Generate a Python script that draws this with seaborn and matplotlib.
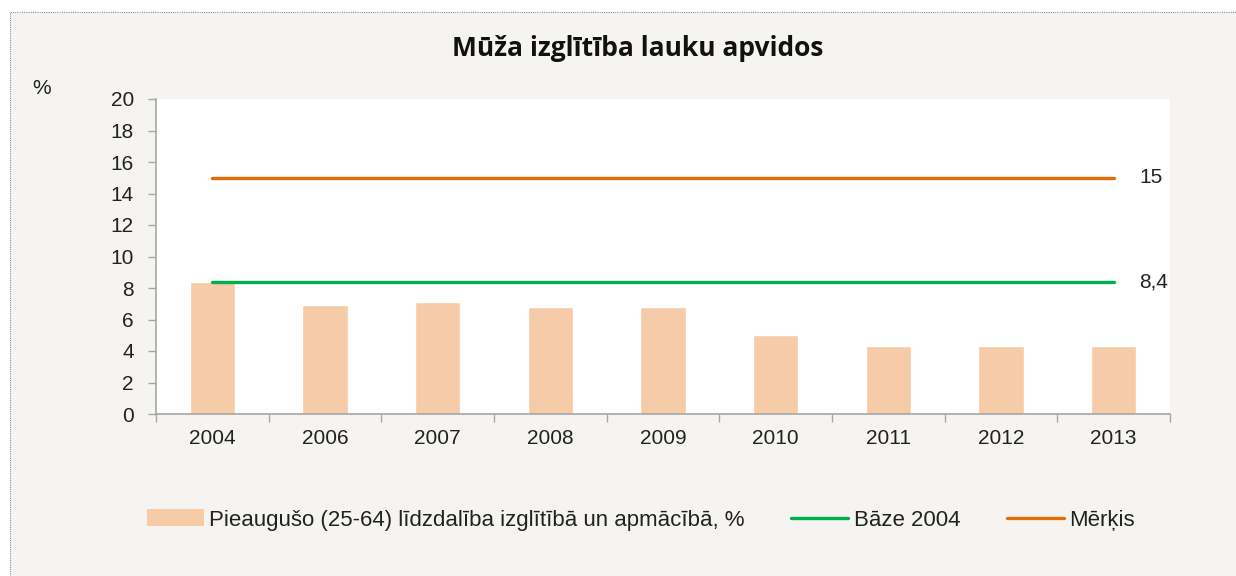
import numpy as np
import pandas as pd
import matplotlib
matplotlib.use("Agg")
import matplotlib.pyplot as plt
import seaborn as sns
from matplotlib.patches import Rectangle, Patch
from matplotlib.lines import Line2D

# ---- data ----
years = ["2004", "2006", "2007", "2008", "2009", "2010", "2011", "2012", "2013"]
participation = [8.4, 6.9, 7.1, 6.8, 6.8, 5.0, 4.3, 4.3, 4.3]
base_2004 = [8.4] * len(years)
target = [15] * len(years)
y_ticks = [0, 2, 4, 6, 8, 10, 12, 14, 16, 18, 20]
title = "Mūža izglītība lauku apvidos"
bar_label = "Pieaugušo (25-64) līdzdalība izglītībā un apmācībā, %"
base_label = "Bāze 2004"
target_label = "Mērķis"
base_text = "8,4"
target_text = "15"

sns.set_theme(style="white")
plt.rcParams["font.family"] = ["Liberation Sans", "DejaVu Sans"]

BG = "#f5f4f0"
BAR = "#f6cba8"
GREEN = "#00b050"
ORANGE = "#e36c09"
AX = "#a6a6a6"

W, H = 1236, 576
fig = plt.figure(figsize=(W / 100, H / 100), dpi=100)
fig.patch.set_facecolor("white")
# chart area background with dotted border
fig.add_artist(Rectangle((10 / W, -0.1), 1.2, 1 - 12 / H + 0.1, transform=fig.transFigure,
                         facecolor=BG, edgecolor="#8c8c8c", linestyle=(0, (1, 1)),
                         linewidth=0.8, zorder=-10))

ax = fig.add_axes([156 / W, (H - 414) / H, (1170 - 156) / W, (414 - 99) / H])
ax.set_facecolor("white")

df = pd.DataFrame({"year": years, "value": participation})
sns.barplot(data=df, x="year", y="value", color=BAR, saturation=1, width=0.4,
            ax=ax, zorder=2)
pos = np.arange(len(years))
sns.lineplot(x=pos, y=base_2004, color=GREEN, linewidth=2.4, ax=ax, zorder=3)
sns.lineplot(x=pos, y=target, color=ORANGE, linewidth=2.4, ax=ax, zorder=3)

ax.set_xlim(-0.5, len(years) - 0.5)
ax.set_ylim(0, 20)
ax.set_yticks(y_ticks)
ax.set_yticklabels([str(t) for t in y_ticks], fontsize=15, color="#222222")
ax.set_xticks(pos)
ax.set_xticklabels(years, fontsize=15, color="#222222")
ax.set_xticks(np.arange(-0.5, len(years)), minor=True)
ax.tick_params(axis="x", which="major", length=0, pad=11)
ax.tick_params(axis="x", which="minor", length=6, width=1, color=AX, direction="out", bottom=True)
ax.tick_params(axis="y", which="major", length=6, width=1, color=AX, direction="out", left=True, pad=10)
ax.set_xlabel("")
ax.set_ylabel("")
for s in ["top", "right"]:
    ax.spines[s].set_visible(False)
for s in ["left", "bottom"]:
    ax.spines[s].set_color(AX)
    ax.spines[s].set_linewidth(1.2)
ax.grid(False)

# annotations at line ends
ax.annotate(target_text, xy=(pos[-1], target[-1]), xytext=(18.5, 0), textcoords="offset points",
            fontsize=15, va="center", ha="left", color="#222222")
ax.annotate(base_text, xy=(pos[-1], base_2004[-1]), xytext=(18.5, 0), textcoords="offset points",
            fontsize=15, va="center", ha="left", color="#222222")

fig.text(42 / W, 1 - 88 / H, "%", fontsize=15, ha="center", va="center", color="#222222")
fig.text(638 / W, 1 - 49 / H, title, fontsize=19, fontweight="bold", ha="center", va="center",
         family=["Open Sans", "DejaVu Sans"], color="#111111")

handles = [Patch(facecolor=BAR, edgecolor="none"),
           Line2D([0], [0], color=GREEN, linewidth=2.4),
           Line2D([0], [0], color=ORANGE, linewidth=2.4)]
leg = fig.legend(handles, [bar_label, base_label, target_label], loc="center",
                 bbox_to_anchor=(641 / W, 1 - 520 / H), ncol=3, frameon=False,
                 fontsize=16, handlelength=2.56, handleheight=0.8, handletextpad=0.25,
                 columnspacing=2.1)
for t in leg.get_texts():
    t.set_color("#222222")

fig.savefig("out.png", dpi=100, facecolor=fig.get_facecolor())
